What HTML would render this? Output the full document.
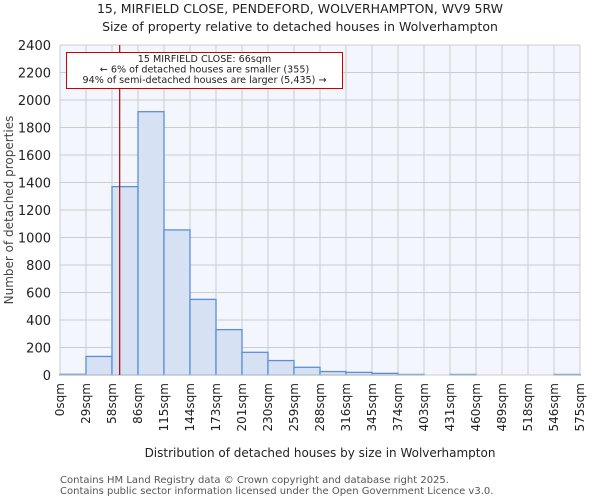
<!DOCTYPE html>
<html><head><meta charset="utf-8"><style>
body{margin:0;background:#fff;}
svg{display:block;font-family:"DejaVu Sans","Liberation Sans",sans-serif;}
</style></head><body>
<svg id="chart" width="600" height="500" viewBox="0 0 600 500" xmlns="http://www.w3.org/2000/svg">
<text x="300" y="13" text-anchor="middle" font-size="12.5" fill="#222">15, MIRFIELD CLOSE, PENDEFORD, WOLVERHAMPTON, WV9 5RW</text>
<text x="300" y="31" text-anchor="middle" font-size="12.5" fill="#222">Size of property relative to detached houses in Wolverhampton</text>
<rect x="60" y="45" width="520" height="330" fill="#f3f6fd"/>
<g id="grid"></g><g id="bars"></g><g id="axes"></g>
<text transform="translate(13,210) rotate(-90)" text-anchor="middle" font-size="12" fill="#444">Number of detached properties</text>
<text x="320" y="457" text-anchor="middle" font-size="12" fill="#222">Distribution of detached houses by size in Wolverhampton</text>
<text x="60" y="483" font-size="10" fill="#555">Contains HM Land Registry data © Crown copyright and database right 2025.</text>
<text x="60" y="494" font-size="10" fill="#555">Contains public sector information licensed under the Open Government Licence v3.0.</text>
</svg>
<script>
const categories=["0sqm","29sqm","58sqm","86sqm","115sqm","144sqm","173sqm","201sqm","230sqm","259sqm","288sqm","316sqm","345sqm","374sqm","403sqm","431sqm","460sqm","489sqm","518sqm","546sqm","575sqm"];
const counts=[5,135,1370,1915,1055,550,330,165,105,56,25,19,12,4,0,4,0,0,0,4];
const yTicks=[0,200,400,600,800,1000,1200,1400,1600,1800,2000,2200,2400];
const binWidthSqm=28.75;
const markerSqm=66;
const NS="http://www.w3.org/2000/svg";
const L=60,R=580,T=45,B=375,yMax=2400;
const bw=(R-L)/counts.length;
const xs=i=>L+i*bw;
const xv=v=>L+v/binWidthSqm*bw;
const ys=v=>B-v/yMax*(B-T);
function mk(tag,attrs,parent){const e=document.createElementNS(NS,tag);for(const k in attrs)e.setAttribute(k,attrs[k]);parent.appendChild(e);return e;}
const grid=document.getElementById('grid'),bars=document.getElementById('bars'),axes=document.getElementById('axes');
yTicks.forEach(t=>{
  const g=mk('line',{x1:L,x2:R,y1:ys(t),y2:ys(t),stroke:'#cccccc','stroke-width':1},grid);
  
  
  const tx=mk('text',{x:L-9,y:ys(t)+5,'text-anchor':'end','font-size':13,fill:'#222'},axes);
  tx.textContent=t;
  
  
});
categories.forEach((c,i)=>{
  const x=xs(i);
  const g=mk('line',{x1:x,x2:x,y1:T,y2:B,stroke:'#cccccc','stroke-width':1},grid);
  
  
  const tx=mk('text',{transform:`translate(${x+4},${B+8}) rotate(-90)`,'text-anchor':'end','font-size':12,fill:'#222'},axes);
  tx.textContent=c;
  
  
});
counts.forEach((v,i)=>{
  if(v<=0)return;
  const r=mk('rect',{x:xs(i),y:ys(v),width:bw,height:B-ys(v),fill:'#d6e1f3',stroke:'#5b8fd6','stroke-width':1.3},bars);
  
  
});
const bl=mk('line',{x1:L,x2:R,y1:B,y2:B,stroke:'#cccccc','stroke-width':1},axes);


const mx=xv(markerSqm);
const ml=mk('line',{x1:mx,x2:mx,y1:T,y2:B,stroke:'#b00000','stroke-width':1.2},axes);


const box=mk('rect',{x:66.5,y:52.5,width:276,height:36,fill:'#fff',stroke:'#cc0000','stroke-width':1},axes);


["15 MIRFIELD CLOSE: 66sqm","← 6% of detached houses are smaller (355)","94% of semi-detached houses are larger (5,435) →"].forEach((s,i)=>{
  const t=mk('text',{x:204.5,y:62+i*10.5,'text-anchor':'middle','font-size':9.6,fill:'#222'},axes);
  t.textContent=s;
  
  
});
</script>
</body></html>
